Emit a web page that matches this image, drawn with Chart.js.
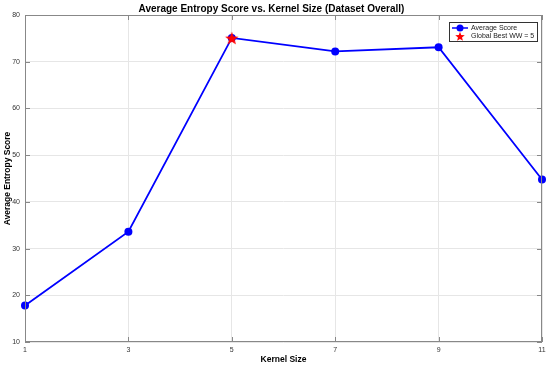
<!DOCTYPE html>
<html>
<head>
<meta charset="utf-8">
<script src="https://cdn.jsdelivr.net/npm/chart.js@4/dist/chart.umd.min.js"></script>
<style>
  html, body { margin: 0; padding: 0; background: #fff; }
  #wrap { width: 550px; height: 365px; }
</style>
</head>
<body>
<div id="wrap"><canvas id="chart" width="550" height="365"></canvas></div>
<script>
const kernelSizes = [1, 3, 5, 7, 9, 11];
const avgScores = [17.8, 33.6, 75.1, 72.2, 73.1, 44.8];
const bestSize = [5];
const bestScore = [75.1];
const xTicks = [1, 3, 5, 7, 9, 11];
const yTicks = [10, 20, 30, 40, 50, 60, 70, 80];

const FONT = '"Liberation Sans", Arial, Helvetica, sans-serif';

// filled five-point star, like a MATLAB pentagram marker
function makeStar(r, color) {
  const c = document.createElement('canvas');
  c.width = c.height = r * 2 + 2;
  const g = c.getContext('2d');
  g.beginPath();
  for (let i = 0; i < 10; i++) {
    const rad = i % 2 === 0 ? r : r * 0.42;
    const a = -Math.PI / 2 + i * Math.PI / 5;
    const px = r + 1 + rad * Math.cos(a);
    const py = r + 1 + rad * Math.sin(a) + 0.8;
    i === 0 ? g.moveTo(px, py) : g.lineTo(px, py);
  }
  g.closePath();
  g.fillStyle = color;
  g.fill();
  return c;
}
const starImg = makeStar(7, '#ff0000');
const starSmall = makeStar(5, '#ff0000');

// box, inward ticks and legend drawn on top like MATLAB
const matlabFrame = {
  id: 'matlabFrame',
  afterDraw(chart) {
    const { ctx, chartArea: a, scales } = chart;
    ctx.save();
    ctx.strokeStyle = '#888';
    ctx.lineWidth = 1;
    ctx.strokeRect(a.left + 0.5, a.top + 0.5, a.right - a.left - 1, a.bottom - a.top - 1);
    ctx.beginPath();
    xTicks.forEach(v => {
      const x = Math.round(scales.x.getPixelForValue(v)) + 0.5;
      ctx.moveTo(x, a.bottom); ctx.lineTo(x, a.bottom - 5);
      ctx.moveTo(x, a.top); ctx.lineTo(x, a.top + 5);
    });
    yTicks.forEach(v => {
      const y = Math.round(scales.y.getPixelForValue(v)) + 0.5;
      ctx.moveTo(a.left, y); ctx.lineTo(a.left + 5, y);
      ctx.moveTo(a.right, y); ctx.lineTo(a.right - 5, y);
    });
    ctx.stroke();

    // legend
    const lx = 449, ly = 22, lw = 88, lh = 19;
    ctx.fillStyle = '#fff';
    ctx.fillRect(lx, ly, lw, lh);
    ctx.strokeStyle = '#333';
    ctx.strokeRect(lx + 0.5, ly + 0.5, lw, lh);
    ctx.strokeStyle = '#0000ff';
    ctx.lineWidth = 1.5;
    ctx.beginPath();
    ctx.moveTo(lx + 3, ly + 6); ctx.lineTo(lx + 19, ly + 6);
    ctx.stroke();
    ctx.fillStyle = '#0000ff';
    ctx.beginPath();
    ctx.arc(lx + 11, ly + 6, 3.5, 0, Math.PI * 2);
    ctx.fill();
    ctx.drawImage(starSmall, lx + 11 - 6, ly + 14 - 6);
    ctx.fillStyle = '#222';
    ctx.font = '7px ' + FONT;
    ctx.textBaseline = 'middle';
    ctx.fillText(chart.data.datasets[0].label, lx + 22, ly + 6);
    ctx.fillText(chart.data.datasets[1].label, lx + 22, ly + 14.5);
    ctx.restore();
  }
};

new Chart(document.getElementById('chart'), {
  type: 'line',
  data: {
    datasets: [
      {
        label: 'Average Score',
        data: kernelSizes.map((k, i) => ({ x: k, y: avgScores[i] })),
        borderColor: '#0000ff',
        backgroundColor: '#0000ff',
        borderWidth: 1.8,
        pointRadius: 4,
        pointBorderWidth: 0,
        pointBackgroundColor: '#0000ff',
        tension: 0,
        order: 2,
        clip: false
      },
      {
        label: 'Global Best WW = 5',
        data: bestSize.map((k, i) => ({ x: k, y: bestScore[i] })),
        showLine: false,
        pointStyle: starImg,
        pointRadius: 7,
        order: 1,
        clip: false
      }
    ]
  },
  options: {
    responsive: false,
    animation: false,
    layout: { padding: { left: 0, right: 7, top: 0, bottom: 0 } },
    plugins: {
      legend: { display: false },
      tooltip: { enabled: false },
      title: {
        display: true,
        text: 'Average Entropy Score vs. Kernel Size (Dataset Overall)',
        color: '#000',
        font: { family: FONT, size: 10, weight: 'bold' },
        padding: { top: 3, bottom: 0 }
      }
    },
    scales: {
      x: {
        type: 'linear',
        min: 1,
        max: 11,
        afterBuildTicks: s => { s.ticks = xTicks.map(v => ({ value: v })); },
        afterFit: s => { s.height = 23; },
        grid: { color: '#e6e6e6', drawTicks: false },
        border: { display: false },
        ticks: { color: '#333', padding: 4, font: { family: FONT, size: 7 } },
        title: {
          display: true,
          text: 'Kernel Size',
          color: '#000',
          padding: { top: 1, bottom: 0 },
          font: { family: FONT, size: 8.5, weight: 'bold' }
        }
      },
      y: {
        min: 10,
        max: 80,
        afterBuildTicks: s => { s.ticks = yTicks.map(v => ({ value: v })); },
        afterFit: s => { s.width = 25; },
        grid: { color: '#e6e6e6', drawTicks: false },
        border: { display: false },
        ticks: { color: '#333', padding: 5, font: { family: FONT, size: 7 } },
        title: {
          display: true,
          text: 'Average Entropy Score',
          color: '#000',
          padding: { top: 3, bottom: 0 },
          font: { family: FONT, size: 8.5, weight: 'bold' }
        }
      }
    }
  },
  plugins: [matlabFrame]
});
</script>
</body>
</html>
